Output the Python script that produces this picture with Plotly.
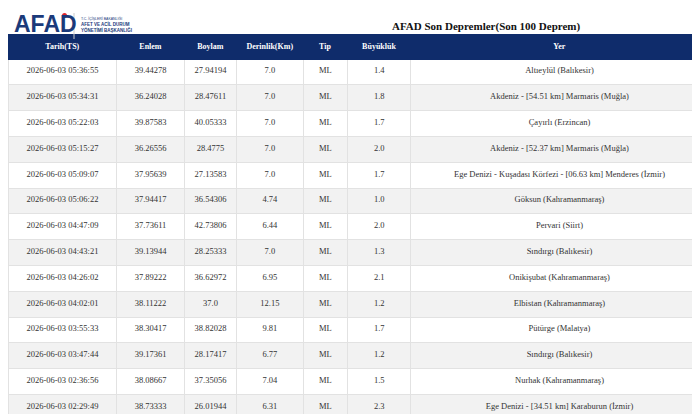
import plotly.graph_objects as go

headers = ["Tarih(TS)", "Enlem", "Boylam", "Derinlik(Km)", "Tip", "Büyüklük", "Yer"]
tarih = ["2026-06-03 05:36:55", "2026-06-03 05:34:31", "2026-06-03 05:22:03", "2026-06-03 05:15:27",
         "2026-06-03 05:09:07", "2026-06-03 05:06:22", "2026-06-03 04:47:09", "2026-06-03 04:43:21",
         "2026-06-03 04:26:02", "2026-06-03 04:02:01", "2026-06-03 03:55:33", "2026-06-03 03:47:44",
         "2026-06-03 02:36:56", "2026-06-03 02:29:49"]
enlem = ["39.44278", "36.24028", "39.87583", "36.26556", "37.95639", "37.94417", "37.73611",
         "39.13944", "37.89222", "38.11222", "38.30417", "39.17361", "38.08667", "38.73333"]
boylam = ["27.94194", "28.47611", "40.05333", "28.4775", "27.13583", "36.54306", "42.73806",
          "28.25333", "36.62972", "37.0", "38.82028", "28.17417", "37.35056", "26.01944"]
derinlik = ["7.0", "7.0", "7.0", "7.0", "7.0", "4.74", "6.44", "7.0", "6.95", "12.15", "9.81",
            "6.77", "7.04", "6.31"]
tip = ["ML"] * 14
buyukluk = ["1.4", "1.8", "1.7", "2.0", "1.7", "1.0", "2.0", "1.3", "2.1", "1.2", "1.7", "1.2", "1.5", "2.3"]
yer = ["Altıeylül (Balıkesir)", "Akdeniz - [54.51 km] Marmaris (Muğla)", "Çayırlı (Erzincan)",
       "Akdeniz - [52.37 km] Marmaris (Muğla)",
       "Ege Denizi - Kuşadası Körfezi - [06.63 km] Menderes (İzmir)", "Göksun (Kahramanmaraş)",
       "Pervari (Siirt)", "Sındırgı (Balıkesir)", "Onikişubat (Kahramanmaraş)",
       "Elbistan (Kahramanmaraş)", "Pütürge (Malatya)", "Sındırgı (Balıkesir)",
       "Nurhak (Kahramanmaraş)", "Ege Denizi - [34.51 km] Karaburun (İzmir)"]

fills = ["#ffffff" if i % 2 == 0 else "#f2f2f2" for i in range(len(tarih))]
W, H = 700, 414

fig = go.Figure(go.Table(
    domain=dict(x=[0, 1.0], y=[0, 1 - 26 / H]),
    columnwidth=[110, 68, 53, 67, 45, 64, 300],
    header=dict(values=[f"<b>{h}</b>" for h in headers], fill_color="#0f2c6b",
                font=dict(family="Liberation Serif", size=8, color="white"),
                align="center", height=20, line=dict(color="#0f2c6b", width=1)),
    cells=dict(values=[tarih, enlem, boylam, derinlik, tip, buyukluk, yer],
               fill_color=[fills] * 7,
               font=dict(family="Liberation Serif", size=8.5, color="#333333"),
               align="center", height=25.8, line=dict(color="#e2e2e2", width=1)),
))

fig.add_annotation(x=4 / W, y=1 - 16 / H, xref="paper", yref="paper", xanchor="left", yanchor="middle",
                   text="<b>AFAD</b>", showarrow=False,
                   font=dict(family="Liberation Sans", size=23, color="#1b3a7a"))
fig.add_shape(type="circle", xref="paper", yref="paper", x0=54 / W, x1=59 / W,
              y0=1 - 10 / H, y1=1 - 5 / H, fillcolor="#e3242b", line=dict(width=0))
fig.add_shape(type="line", xref="paper", yref="paper", x0=66 / W, x1=66 / W,
              y0=1 - 31 / H, y1=1 - 5 / H, line=dict(color="#cccccc", width=1))
fig.add_annotation(x=71 / W, y=1 - 17 / H, xref="paper", yref="paper", xanchor="left", yanchor="middle",
                   text="<span style='font-size:3.5px'>T.C. İÇİŞLERİ BAKANLIĞI</span><br><b>AFET VE ACİL DURUM<br>YÖNETİMİ BAŞKANLIĞI</b>",
                   showarrow=False, align="left",
                   font=dict(family="Liberation Sans", size=4.5, color="#1b3a7a"))
fig.add_annotation(x=478 / W, y=1 - 19 / H, xref="paper", yref="paper", xanchor="center", yanchor="middle",
                   text="<b>AFAD Son Depremler(Son 100 Deprem)</b>", showarrow=False,
                   font=dict(family="Liberation Serif", size=11, color="#111111"))

fig.update_layout(width=W, height=H, margin=dict(l=0, r=0, t=0, b=0),
                  paper_bgcolor="white", plot_bgcolor="white")
fig.write_html("out.html")
